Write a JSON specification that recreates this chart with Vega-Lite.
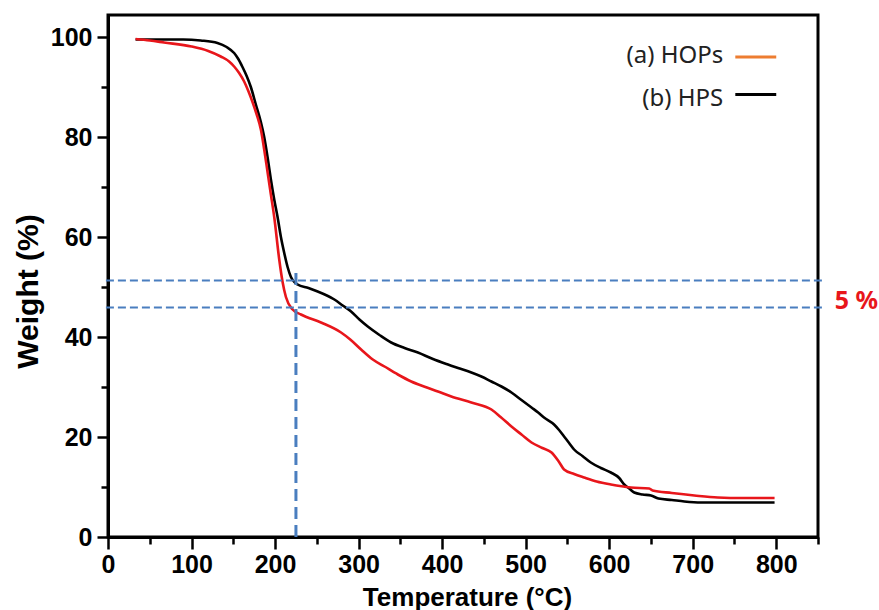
{
  "$schema": "https://vega.github.io/schema/vega-lite/v6.json",
  "width": 710,
  "height": 522,
  "autosize": {"type": "none"},
  "padding": {"left": 108, "top": 15, "right": 61, "bottom": 73},
  "background": "white",
  "config": {
    "view": {"stroke": "black", "strokeWidth": 3},
    "axis": {
      "grid": false,
      "domainColor": "black",
      "domainWidth": 3,
      "tickColor": "black",
      "tickWidth": 2.5,
      "labelFont": "Liberation Sans",
      "labelFontWeight": "bold",
      "labelFontSize": 25,
      "labelColor": "black",
      "titleFont": "Liberation Sans",
      "titleFontWeight": "bold",
      "titleColor": "black"
    }
  },
  "datasets": {
    "curves": [
      {"T": 33, "W": 99.5, "s": "HPS"},
      {"T": 63, "W": 99.5, "s": "HPS"},
      {"T": 90, "W": 99.5, "s": "HPS"},
      {"T": 111, "W": 99.3, "s": "HPS"},
      {"T": 131, "W": 98.8, "s": "HPS"},
      {"T": 142, "W": 98.0, "s": "HPS"},
      {"T": 151, "W": 96.8, "s": "HPS"},
      {"T": 156, "W": 95.6, "s": "HPS"},
      {"T": 161, "W": 94.0, "s": "HPS"},
      {"T": 166, "W": 92.2, "s": "HPS"},
      {"T": 171, "W": 90.0, "s": "HPS"},
      {"T": 177, "W": 86.5, "s": "HPS"},
      {"T": 183, "W": 83.0, "s": "HPS"},
      {"T": 187, "W": 80.0, "s": "HPS"},
      {"T": 191, "W": 76.0, "s": "HPS"},
      {"T": 195, "W": 71.5, "s": "HPS"},
      {"T": 199, "W": 67.5, "s": "HPS"},
      {"T": 203, "W": 64.0, "s": "HPS"},
      {"T": 207, "W": 60.0, "s": "HPS"},
      {"T": 211, "W": 56.8, "s": "HPS"},
      {"T": 215, "W": 54.0, "s": "HPS"},
      {"T": 219, "W": 52.0, "s": "HPS"},
      {"T": 223, "W": 51.0, "s": "HPS"},
      {"T": 227, "W": 50.5, "s": "HPS"},
      {"T": 240, "W": 49.8, "s": "HPS"},
      {"T": 251, "W": 49.1, "s": "HPS"},
      {"T": 262, "W": 48.3, "s": "HPS"},
      {"T": 271, "W": 47.5, "s": "HPS"},
      {"T": 281, "W": 46.3, "s": "HPS"},
      {"T": 291, "W": 45.1, "s": "HPS"},
      {"T": 301, "W": 43.5, "s": "HPS"},
      {"T": 311, "W": 42.1, "s": "HPS"},
      {"T": 325, "W": 40.4, "s": "HPS"},
      {"T": 339, "W": 38.9, "s": "HPS"},
      {"T": 355, "W": 37.8, "s": "HPS"},
      {"T": 371, "W": 36.9, "s": "HPS"},
      {"T": 389, "W": 35.6, "s": "HPS"},
      {"T": 407, "W": 34.5, "s": "HPS"},
      {"T": 421, "W": 33.7, "s": "HPS"},
      {"T": 435, "W": 32.9, "s": "HPS"},
      {"T": 447, "W": 32.1, "s": "HPS"},
      {"T": 459, "W": 31.1, "s": "HPS"},
      {"T": 471, "W": 30.1, "s": "HPS"},
      {"T": 483, "W": 28.9, "s": "HPS"},
      {"T": 495, "W": 27.4, "s": "HPS"},
      {"T": 507, "W": 25.9, "s": "HPS"},
      {"T": 515, "W": 24.9, "s": "HPS"},
      {"T": 522, "W": 23.9, "s": "HPS"},
      {"T": 534, "W": 22.5, "s": "HPS"},
      {"T": 540, "W": 21.4, "s": "HPS"},
      {"T": 546, "W": 20.1, "s": "HPS"},
      {"T": 552, "W": 18.8, "s": "HPS"},
      {"T": 558, "W": 17.5, "s": "HPS"},
      {"T": 568, "W": 16.2, "s": "HPS"},
      {"T": 578, "W": 14.9, "s": "HPS"},
      {"T": 590, "W": 13.8, "s": "HPS"},
      {"T": 602, "W": 12.9, "s": "HPS"},
      {"T": 612, "W": 11.8, "s": "HPS"},
      {"T": 618, "W": 10.5, "s": "HPS"},
      {"T": 624, "W": 9.7, "s": "HPS"},
      {"T": 630, "W": 8.9, "s": "HPS"},
      {"T": 640, "W": 8.5, "s": "HPS"},
      {"T": 650, "W": 8.3, "s": "HPS"},
      {"T": 659, "W": 7.7, "s": "HPS"},
      {"T": 675, "W": 7.4, "s": "HPS"},
      {"T": 690, "W": 7.1, "s": "HPS"},
      {"T": 710, "W": 6.9, "s": "HPS"},
      {"T": 750, "W": 6.9, "s": "HPS"},
      {"T": 798, "W": 6.9, "s": "HPS"},
      {"T": 33, "W": 99.6, "s": "HOPs"},
      {"T": 50, "W": 99.3, "s": "HOPs"},
      {"T": 67, "W": 98.9, "s": "HOPs"},
      {"T": 100, "W": 98.1, "s": "HOPs"},
      {"T": 120, "W": 97.2, "s": "HOPs"},
      {"T": 135, "W": 96.1, "s": "HOPs"},
      {"T": 145, "W": 95.1, "s": "HOPs"},
      {"T": 151, "W": 94.1, "s": "HOPs"},
      {"T": 157, "W": 92.8, "s": "HOPs"},
      {"T": 163, "W": 91.1, "s": "HOPs"},
      {"T": 168, "W": 89.2, "s": "HOPs"},
      {"T": 173, "W": 87.0, "s": "HOPs"},
      {"T": 178, "W": 84.5, "s": "HOPs"},
      {"T": 183, "W": 81.5, "s": "HOPs"},
      {"T": 187, "W": 77.5, "s": "HOPs"},
      {"T": 191, "W": 73.0, "s": "HOPs"},
      {"T": 195, "W": 68.5, "s": "HOPs"},
      {"T": 199, "W": 64.0, "s": "HOPs"},
      {"T": 205, "W": 55.5, "s": "HOPs"},
      {"T": 209, "W": 51.0, "s": "HOPs"},
      {"T": 213, "W": 48.0, "s": "HOPs"},
      {"T": 221, "W": 45.5, "s": "HOPs"},
      {"T": 231, "W": 44.5, "s": "HOPs"},
      {"T": 255, "W": 42.9, "s": "HOPs"},
      {"T": 279, "W": 40.9, "s": "HOPs"},
      {"T": 290, "W": 39.5, "s": "HOPs"},
      {"T": 303, "W": 37.5, "s": "HOPs"},
      {"T": 317, "W": 35.5, "s": "HOPs"},
      {"T": 331, "W": 34.1, "s": "HOPs"},
      {"T": 347, "W": 32.5, "s": "HOPs"},
      {"T": 363, "W": 31.1, "s": "HOPs"},
      {"T": 380, "W": 30.0, "s": "HOPs"},
      {"T": 395, "W": 29.1, "s": "HOPs"},
      {"T": 411, "W": 28.1, "s": "HOPs"},
      {"T": 435, "W": 26.9, "s": "HOPs"},
      {"T": 459, "W": 25.5, "s": "HOPs"},
      {"T": 470, "W": 24.0, "s": "HOPs"},
      {"T": 483, "W": 22.1, "s": "HOPs"},
      {"T": 495, "W": 20.5, "s": "HOPs"},
      {"T": 507, "W": 18.9, "s": "HOPs"},
      {"T": 520, "W": 17.8, "s": "HOPs"},
      {"T": 531, "W": 16.9, "s": "HOPs"},
      {"T": 540, "W": 15.0, "s": "HOPs"},
      {"T": 546, "W": 13.5, "s": "HOPs"},
      {"T": 558, "W": 12.6, "s": "HOPs"},
      {"T": 570, "W": 11.9, "s": "HOPs"},
      {"T": 585, "W": 11.1, "s": "HOPs"},
      {"T": 602, "W": 10.5, "s": "HOPs"},
      {"T": 626, "W": 9.9, "s": "HOPs"},
      {"T": 648, "W": 9.7, "s": "HOPs"},
      {"T": 652, "W": 9.3, "s": "HOPs"},
      {"T": 675, "W": 8.8, "s": "HOPs"},
      {"T": 702, "W": 8.3, "s": "HOPs"},
      {"T": 730, "W": 7.9, "s": "HOPs"},
      {"T": 760, "W": 7.8, "s": "HOPs"},
      {"T": 798, "W": 7.8, "s": "HOPs"}
    ],
    "hlines": [
      {"T": -2.5, "T2": 856, "W": 51.3},
      {"T": -2.5, "T2": 856, "W": 45.9}
    ],
    "vline": [
      {"T": 225, "W": 0, "W2": 52.8}
    ],
    "legendText": [
      {"T": 736.5, "W": 94.9, "label": "(a) HOPs"},
      {"T": 736.5, "W": 86.2, "label": "(b) HPS"}
    ],
    "legendLines": [
      {"T": 751, "T2": 800, "W": 96.0, "c": "#ED7D31"},
      {"T": 751, "T2": 800, "W": 88.5, "c": "#000000"}
    ],
    "note": [
      {"T": 870, "W": 45.6, "label": "5 %"}
    ]
  },
  "layer": [
    {
      "data": {"name": "curves"},
      "mark": {"type": "line", "strokeWidth": 2.6, "interpolate": "monotone"},
      "encoding": {
        "x": {
          "field": "T", "type": "quantitative",
          "scale": {"domain": [0, 850], "nice": false, "zero": false},
          "axis": {
            "title": "Temperature (\u00b0C)",
            "titleFontSize": 26,
            "titleBaseline": "alphabetic",
            "titleY": 68,
            "titleX": 359,
            "titleAlign": "center",
            "values": [0, 50, 100, 150, 200, 250, 300, 350, 400, 450, 500, 550, 600, 650, 700, 750, 800, 850],
            "labelExpr": "datum.value % 100 === 0 && datum.value <= 800 ? datum.label : ''",
            "tickSize": {"condition": {"test": "datum.value % 100 === 0", "value": 12}, "value": 7},
            "labelPadding": 3,
            "labelFlush": false,
            "labelOverlap": false
          }
        },
        "y": {
          "field": "W", "type": "quantitative",
          "scale": {"domain": [0, 104.4], "nice": false, "zero": false},
          "axis": {
            "title": "Weight (%)",
            "titleFontSize": 30,
            "titleAngle": -90,
            "titleBaseline": "alphabetic",
            "titleX": -71,
            "titleY": 276,
            "titleAlign": "center",
            "values": [0, 10, 20, 30, 40, 50, 60, 70, 80, 90, 100],
            "labelExpr": "datum.value % 20 === 0 ? datum.label : ''",
            "tickSize": {"condition": {"test": "datum.value % 20 === 0", "value": 11}, "value": 7},
            "labelPadding": 5,
            "labelOverlap": false
          }
        },
        "color": {
          "field": "s", "type": "nominal",
          "scale": {"domain": ["HPS", "HOPs"], "range": ["#000000", "#E8161B"]},
          "legend": null
        },
        "order": {"field": "T", "type": "quantitative"}
      }
    },
    {
      "data": {"name": "hlines"},
      "mark": {"type": "rule", "color": "#4A7EBF", "strokeWidth": 2, "strokeDash": [8, 4]},
      "encoding": {
        "x": {"field": "T", "type": "quantitative"},
        "x2": {"field": "T2"},
        "y": {"field": "W", "type": "quantitative"}
      }
    },
    {
      "data": {"name": "vline"},
      "mark": {"type": "rule", "color": "#4A7EBF", "strokeWidth": 3, "strokeDash": [12, 6]},
      "encoding": {
        "x": {"field": "T", "type": "quantitative"},
        "y": {"field": "W", "type": "quantitative"},
        "y2": {"field": "W2"}
      }
    },
    {
      "data": {"name": "legendText"},
      "mark": {"type": "text", "align": "right", "baseline": "alphabetic", "font": "Noto Sans", "fontSize": 24, "color": "#222222"},
      "encoding": {
        "x": {"field": "T", "type": "quantitative"},
        "y": {"field": "W", "type": "quantitative"},
        "text": {"field": "label"}
      }
    },
    {
      "data": {"name": "legendLines"},
      "mark": {"type": "rule", "strokeWidth": 3},
      "encoding": {
        "x": {"field": "T", "type": "quantitative"},
        "x2": {"field": "T2"},
        "y": {"field": "W", "type": "quantitative"},
        "color": {"field": "c", "type": "nominal", "scale": null}
      }
    },
    {
      "data": {"name": "note"},
      "mark": {"type": "text", "align": "left", "baseline": "alphabetic", "font": "Noto Sans", "fontSize": 25, "fontWeight": "bold", "color": "#E8161B"},
      "encoding": {
        "x": {"field": "T", "type": "quantitative"},
        "y": {"field": "W", "type": "quantitative"},
        "text": {"field": "label"}
      }
    }
  ],
  "resolve": {"scale": {"color": "independent"}}
}
